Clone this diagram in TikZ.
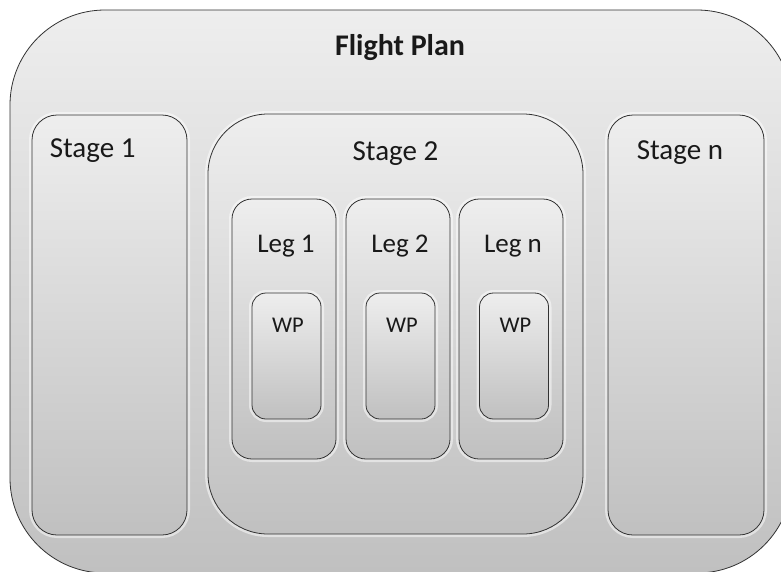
\documentclass[tikz,border=0pt]{standalone}
\usepackage{fontspec}
\setmainfont{Carlito}
\usetikzlibrary{positioning}

\definecolor{boxtop}{RGB}{238,238,238}
\definecolor{boxbot}{RGB}{192,192,192}
\definecolor{edge}{RGB}{50,50,50}

\begin{document}
\begin{tikzpicture}[
  x=1pt, y=-1pt,
  box/.style={draw=edge, line width=0.8pt, top color=boxtop, bottom color=boxbot, inner sep=0pt,
    preaction={draw=white, opacity=0.5, line width=6pt}},
  plan/.style={box, rounded corners=95pt, minimum width=782pt, minimum height=563pt},
  stagebox/.style={box, rounded corners=25pt, minimum width=155pt, minimum height=420pt},
  bigstage/.style={box, rounded corners=60pt, minimum width=375pt, minimum height=420pt},
  legbox/.style={box, rounded corners=20pt, minimum width=104pt, minimum height=260pt},
  wpbox/.style={box, rounded corners=14pt, minimum width=69pt, minimum height=126pt},
  lbl/.style={text=black!90, inner sep=0pt, font=\fontsize{29}{32}\selectfont},
  leglbl/.style={lbl, font=\fontsize{27}{30}\selectfont},
  wplbl/.style={lbl, font=\fontsize{22.5}{25}\selectfont}
]
\useasboundingbox (0,0) rectangle (781,571);
\clip (0,0) rectangle (781,571);
% outer plan
\node[plan] (fp) at (401,291.5) {};
\node[lbl, anchor=base, font=\fontsize{30}{33}\bfseries] (fptxt) at ([xshift=-1pt,yshift=-46pt]fp.north) {Flight Plan};
% stages
\node[stagebox] (s1) at (109.5,325) {};
\node[bigstage] (s2) at (395.5,324) {};
\node[stagebox, minimum width=156pt] (sn) at (686,325) {};
\node[lbl, anchor=base west] (s1txt) at ([xshift=18pt,yshift=-43pt]s1.north west) {Stage 1};
\node[lbl, anchor=base] (s2txt) at ([yshift=-47pt]s2.north) {Stage 2};
\node[lbl, anchor=base west] (sntxt) at ([xshift=29pt,yshift=-45pt]sn.north west) {Stage n};
% legs
\node[legbox] (l1) at (284,329) {};
\node[legbox] (l2) at (398,329) {};
\node[legbox] (ln) at (511,329) {};
\foreach \l/\t in {l1/Leg 1, l2/Leg 2, ln/Leg n}
  \node[leglbl, anchor=base] (\l txt) at ([xshift=2pt,yshift=-54pt]\l.north) {\t};
% waypoints
\node[wpbox] (w1) at (286.5,356) {};
\node[wpbox] (w2) at (400.5,356) {};
\node[wpbox] (wn) at (514,356) {};
\foreach \w in {w1,w2,wn}
  \node[wplbl, anchor=base] (\w txt) at ([xshift=1.5pt,yshift=-40pt]\w.north) {WP};
\end{tikzpicture}
\end{document}
